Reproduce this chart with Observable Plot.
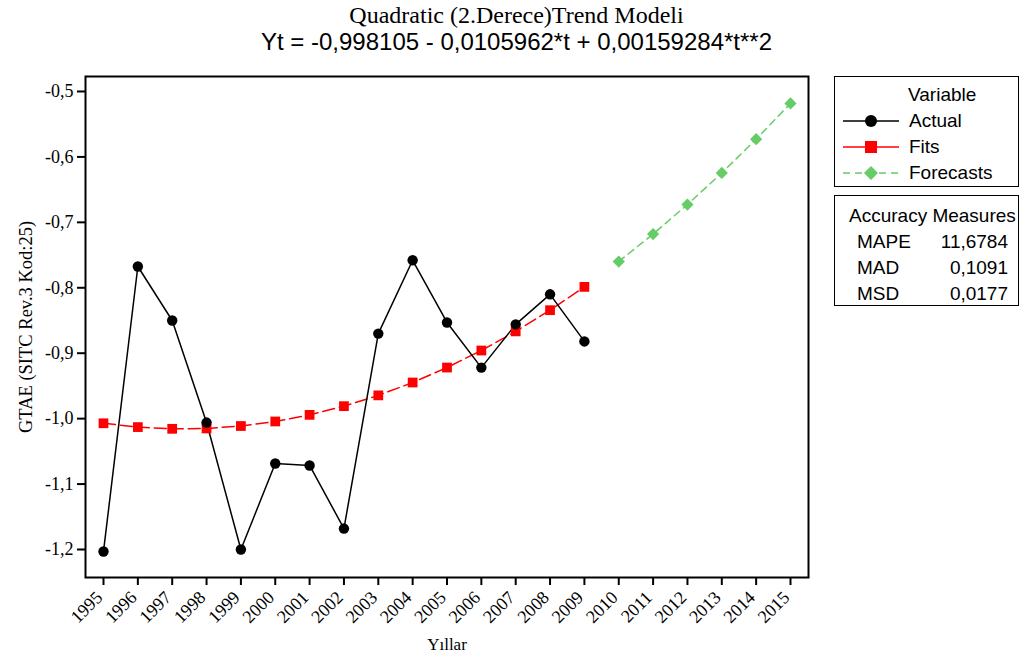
<!DOCTYPE html>
<html><head><meta charset="utf-8">
<script src="https://cdn.jsdelivr.net/npm/d3@7"></script>
<script src="https://cdn.jsdelivr.net/npm/@observablehq/plot@0.6"></script>
<style>
body{margin:0;background:#fff;}
#wrap{position:relative;width:1023px;height:662px;overflow:hidden;}
#title{height:62px;text-align:center;padding-left:10px;}
#t1{font-family:"Liberation Serif",serif;font-size:24px;line-height:24px;padding-top:3px;}
#t2{font-family:"Liberation Sans",Arial,sans-serif;font-size:24px;line-height:30px;}
.box{position:absolute;left:834px;width:183px;border:1.5px solid #000;font-family:"Liberation Sans",Arial,sans-serif;font-size:19px;}
.row{position:absolute;left:0;height:22px;line-height:22px;white-space:nowrap;}
</style></head>
<body><div id="wrap">
<div id="title"><div id="t1">Quadratic (2.Derece)Trend Modeli</div><div id="t2">Yt = -0,998105 - 0,0105962*t + 0,00159284*t**2</div></div>
<div id="chart"></div>
<div class="box" id="legend" style="top:76px;height:109px;"></div>
<div class="box" id="acc" style="top:195px;height:109px;"></div>
</div>
<script>
const years = [1995,1996,1997,1998,1999,2000,2001,2002,2003,2004,2005,2006,2007,2008,2009];
const actualValues = [-1.203,-0.7675,-0.850,-1.006,-1.200,-1.0686,-1.0716,-1.168,-0.870,-0.758,-0.853,-0.922,-0.856,-0.810,-0.882];
const fitValues = [-1.00711,-1.01293,-1.01556,-1.01500,-1.01127,-1.00434,-0.99423,-0.98093,-0.96445,-0.94478,-0.92193,-0.89589,-0.86667,-0.83426,-0.79866];
const forecastYears = [2010,2011,2012,2013,2014,2015];
const forecastValues = [-0.75988,-0.71791,-0.67276,-0.62442,-0.57289,-0.51818];
const yTicks = [-0.5,-0.6,-0.7,-0.8,-0.9,-1.0,-1.1,-1.2];
const xTicks = [1995,1996,1997,1998,1999,2000,2001,2002,2003,2004,2005,2006,2007,2008,2009,2010,2011,2012,2013,2014,2015];
const seriesNames = ["Actual","Fits","Forecasts"];
const seriesColors = ["#000000","#ff0000","#66cc66"];
const accNames = ["MAPE","MAD","MSD"];
const accValues = ["11,6784","0,1091","0,0177"];

const actual = years.map((y,i)=>({year:y,value:actualValues[i]}));
const fits = years.map((y,i)=>({year:y,value:fitValues[i]}));
const fc = forecastYears.map((y,i)=>({year:y,value:forecastValues[i]}));

const fmt = d => d.toFixed(1).replace(".",",");

const plot = Plot.plot({
  width:1023, height:600,
  marginTop:14, marginBottom:85, marginLeft:85, marginRight:215,
  style:{fontFamily:"'Liberation Serif',serif",fontSize:"18px",color:"#000",background:"#fff"},
  x:{domain:[1994.476,2015.524]},
  y:{domain:[-1.2428,-0.4771]},
  marks:[
    Plot.axisX({ticks:xTicks, tickFormat:d=>String(d), tickRotate:-45, tickSize:8, tickPadding:3, fontSize:18, strokeWidth:2, label:null}),
    Plot.axisX({ticks:[], tickSize:0, label:"Yıllar", labelAnchor:"center", labelArrow:"none", labelOffset:72}),
    Plot.axisY({ticks:yTicks, tickFormat:fmt, tickSize:8, tickPadding:4, fontSize:18, strokeWidth:2,
      label:"GTAE (SITC Rev.3 Kod:25)", labelAnchor:"center", labelArrow:"none", labelOffset:67}),
    Plot.frame({stroke:"#000",strokeWidth:2}),
    Plot.line(fits,{x:"year",y:"value",stroke:seriesColors[1],strokeWidth:1.5,strokeDasharray:"12,5"}),
    Plot.line(fc,{x:"year",y:"value",stroke:seriesColors[2],strokeWidth:1.5,strokeDasharray:"7,5"}),
    Plot.line(actual,{x:"year",y:"value",stroke:seriesColors[0],strokeWidth:1.5}),
    Plot.dot(fits,{x:"year",y:"value",symbol:"square",r:5.5,fill:seriesColors[1],stroke:"none"}),
    Plot.dot(fc,{x:"year",y:"value",symbol:"diamond2",r:5.5,fill:seriesColors[2],stroke:"none"}),
    Plot.dot(actual,{x:"year",y:"value",r:5.2,fill:seriesColors[0],stroke:"none"})
  ]
});
plot.querySelectorAll("g[aria-label='x-axis tick label']").forEach(g=>{
  const t = g.getAttribute("transform") || "";
  g.setAttribute("transform", (t + " translate(-4,6)").trim());
});
plot.querySelectorAll("g[aria-label='y-axis label'] text").forEach(t=>t.style.fontSize="18.5px");
plot.querySelectorAll("g[aria-label='x-axis label'] text").forEach(t=>t.style.fontSize="17px");
document.getElementById("chart").appendChild(plot);

// legend
const leg = document.getElementById("legend");
let h = `<div class="row" style="top:7px;left:73px;">Variable</div>`;
const syms = [
  `<circle cx="28" cy="11" r="6" fill="#000"/>`,
  `<rect x="22" y="5" width="12" height="12" fill="#ff0000"/>`,
  `<path d="M28 4 L35 11 L28 18 L21 11 Z" fill="#66cc66"/>`
];
const dashes = ["", "", "7,5"];
seriesNames.forEach((n,i)=>{
  const top = 33 + i*26;
  h += `<svg style="position:absolute;left:8px;top:${top}px" width="58" height="22"><line x1="0" x2="56" y1="11" y2="11" stroke="${seriesColors[i]}" stroke-width="1.5" ${dashes[i]?`stroke-dasharray="${dashes[i]}"`:""}/>${syms[i]}</svg>`;
  h += `<div class="row" style="top:${top}px;left:74px;">${n}</div>`;
});
leg.innerHTML = h;

const acc = document.getElementById("acc");
let a = `<div class="row" style="top:9px;left:14px;">Accuracy Measures</div>`;
accNames.forEach((n,i)=>{
  const top = 35 + i*26;
  a += `<div class="row" style="top:${top}px;left:22px;">${n}</div>`;
  a += `<div class="row" style="top:${top}px;left:auto;right:10px;text-align:right;">${accValues[i]}</div>`;
});
acc.innerHTML = a;
</script>
</body></html>
